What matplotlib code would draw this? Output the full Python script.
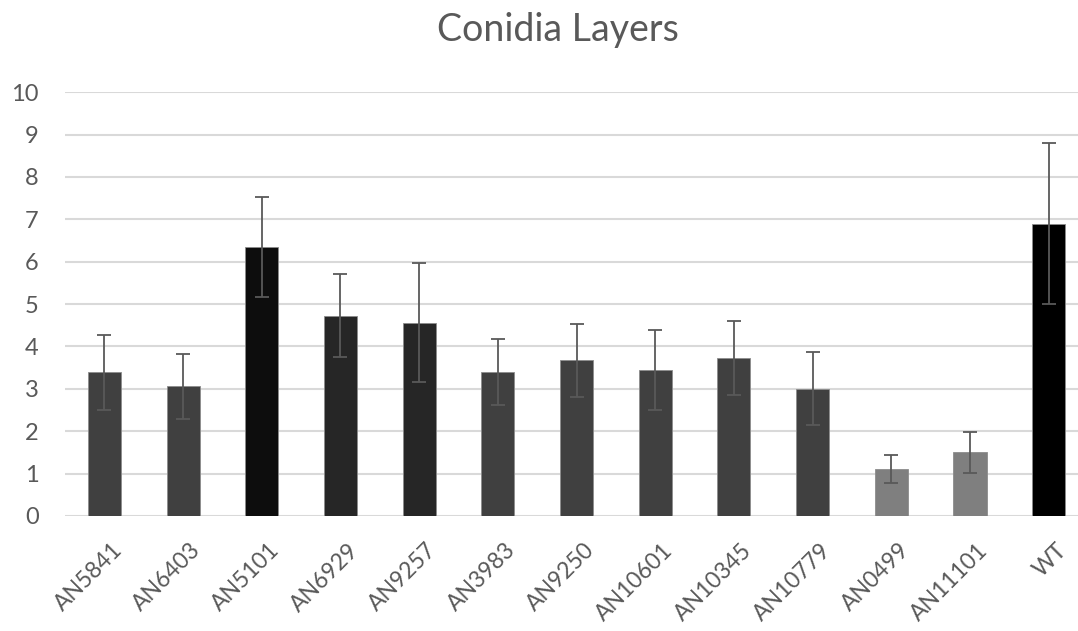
import matplotlib
matplotlib.use("Agg")
import matplotlib.pyplot as plt
import matplotlib.transforms as mtransforms
import numpy as np

# Data
strains = ["AN5841", "AN6403", "AN5101", "AN6929", "AN9257", "AN3983", "AN9250",
           "AN10601", "AN10345", "AN10779", "AN0499", "AN11101", "WT"]
layers = [3.39, 3.06, 6.35, 4.73, 4.56, 3.39, 3.67, 3.45, 3.73, 3.00, 1.11, 1.50, 6.90]
errors = [0.88, 0.76, 1.18, 0.98, 1.40, 0.78, 0.86, 0.95, 0.88, 0.86, 0.33, 0.49, 1.90]
bar_colors = ["#404040", "#404040", "#0d0d0d", "#262626", "#262626", "#404040", "#404040",
              "#404040", "#404040", "#404040", "#7f7f7f", "#7f7f7f", "#000000"]
y_ticks = list(range(0, 11))

plt.rcParams["font.family"] = ["Lato", "DejaVu Sans"]

fig = plt.figure(figsize=(10.78, 6.31), dpi=100)
ax = fig.add_axes([0.0603, 0.1823, 0.949, 0.6715])

x = np.arange(len(strains))
ax.bar(x, layers, width=0.42, color=bar_colors, edgecolor="#8c8c8c", linewidth=0.6, zorder=3)
ax.errorbar(x, layers, yerr=errors, fmt="none", ecolor="#595959", elinewidth=1.3,
            capsize=5, capthick=1.3, zorder=4)

ax.set_xlim(-0.5, len(strains) - 0.5)
ax.set_ylim(0, 10)
ax.set_yticks(y_ticks)
ax.grid(axis="y", color="#d9d9d9", linewidth=1.5, zorder=0)
ax.set_axisbelow(True)
for side in ["top", "right", "left", "bottom"]:
    ax.spines[side].set_visible(False)

ax.tick_params(axis="y", length=0, pad=19, labelsize=17, labelcolor="#595959")
ax.tick_params(axis="x", length=0, pad=17, labelsize=16.5, labelcolor="#595959")
ax.set_xticks(x)
ax.set_xticklabels(strains, rotation=45, ha="right", va="top", rotation_mode="anchor")
shift = mtransforms.ScaledTranslation(7 / 100, 0, fig.dpi_scale_trans)
for lbl in ax.get_xticklabels():
    lbl.set_transform(lbl.get_transform() + shift)

fig.text(558 / 1078, 1 - 30 / 631, "Conidia Layers", ha="center", va="center",
         fontsize=27, color="#595959")

fig.savefig("out.png", dpi=100)
